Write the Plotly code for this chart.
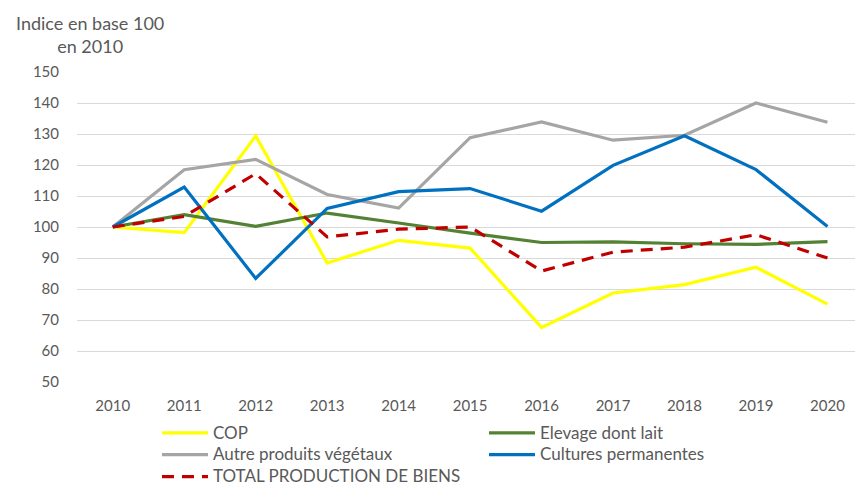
import plotly.graph_objects as go

years = [2010, 2011, 2012, 2013, 2014, 2015, 2016, 2017, 2018, 2019, 2020]
cop = [100, 98.2, 129.4, 88.4, 95.7, 93.2, 67.6, 78.7, 81.4, 87.0, 75.1]
elevage = [100, 104.0, 100.2, 104.5, 101.3, 98.0, 95.0, 95.2, 94.6, 94.4, 95.3]
autres = [100, 118.5, 121.8, 110.5, 106.1, 128.8, 133.9, 128.0, 129.6, 140.0, 133.8]
cultures = [100, 112.9, 83.4, 106.0, 111.4, 112.4, 105.1, 119.9, 129.4, 118.5, 100.2]
total = [100, 103.4, 117.2, 96.8, 99.3, 100.0, 85.8, 91.9, 93.5, 97.5, 90.0]

series = [
    ("COP", cop, "#FFFF00", "solid"),
    ("Elevage dont lait", elevage, "#548235", "solid"),
    ("Autre produits végétaux", autres, "#A5A5A5", "solid"),
    ("Cultures permanentes", cultures, "#0070C0", "solid"),
    ("TOTAL PRODUCTION DE BIENS", total, "#C00000", "12px,8px"),
]

font_family = "Lato"
text_color = "#595959"

fig = go.Figure()
for name, vals, color, dash in series:
    fig.add_trace(go.Scatter(
        x=years, y=vals, mode="lines",
        name='<span style="font-size:17px">' + name + '</span>',
        line=dict(color=color, width=3.2, dash=dash),
    ))

fig.update_layout(
    width=855, height=483,
    margin=dict(l=77, r=0, t=72, b=101),
    paper_bgcolor="white", plot_bgcolor="white",
    font=dict(family=font_family, size=15, color=text_color),
    showlegend=True,
    legend=dict(
        orientation="h", x=0.1028, xanchor="left",
        yref="container", y=0.1368, yanchor="top",
        entrywidth=266, entrywidthmode="pixels",
        font=dict(family=font_family, size=14.5, color=text_color),
        tracegroupgap=0, itemwidth=46,
    ),
    xaxis=dict(
        range=[2009.5, 2020.385], tickmode="array", tickvals=years,
        ticktext=[str(y) for y in years], automargin=False,
        showgrid=False, zeroline=False, showline=False,
        ticks="outside", ticklen=10, tickcolor="rgba(0,0,0,0)",
        tickfont=dict(size=15, color=text_color),
    ),
    yaxis=dict(
        range=[50, 150], tickmode="array", tickvals=list(range(50, 151, 10)),
        automargin=False,
        showgrid=True, gridcolor="#D9D9D9", gridwidth=1.3, zeroline=False,
        showline=False, ticks="outside", ticklen=14, tickcolor="rgba(0,0,0,0)",
        tickfont=dict(size=15, color=text_color),
    ),
    annotations=[dict(
        text="Indice en base 100<br>en 2010", xref="paper", yref="paper",
        x=-0.081, y=1.121, xanchor="left", yanchor="middle", showarrow=False,
        align="center", font=dict(family=font_family, size=18, color=text_color),
    )],
)

fig.write_html("out.html", config={"displayModeBar": False},
               post_script="document.body.style.margin='0';")
